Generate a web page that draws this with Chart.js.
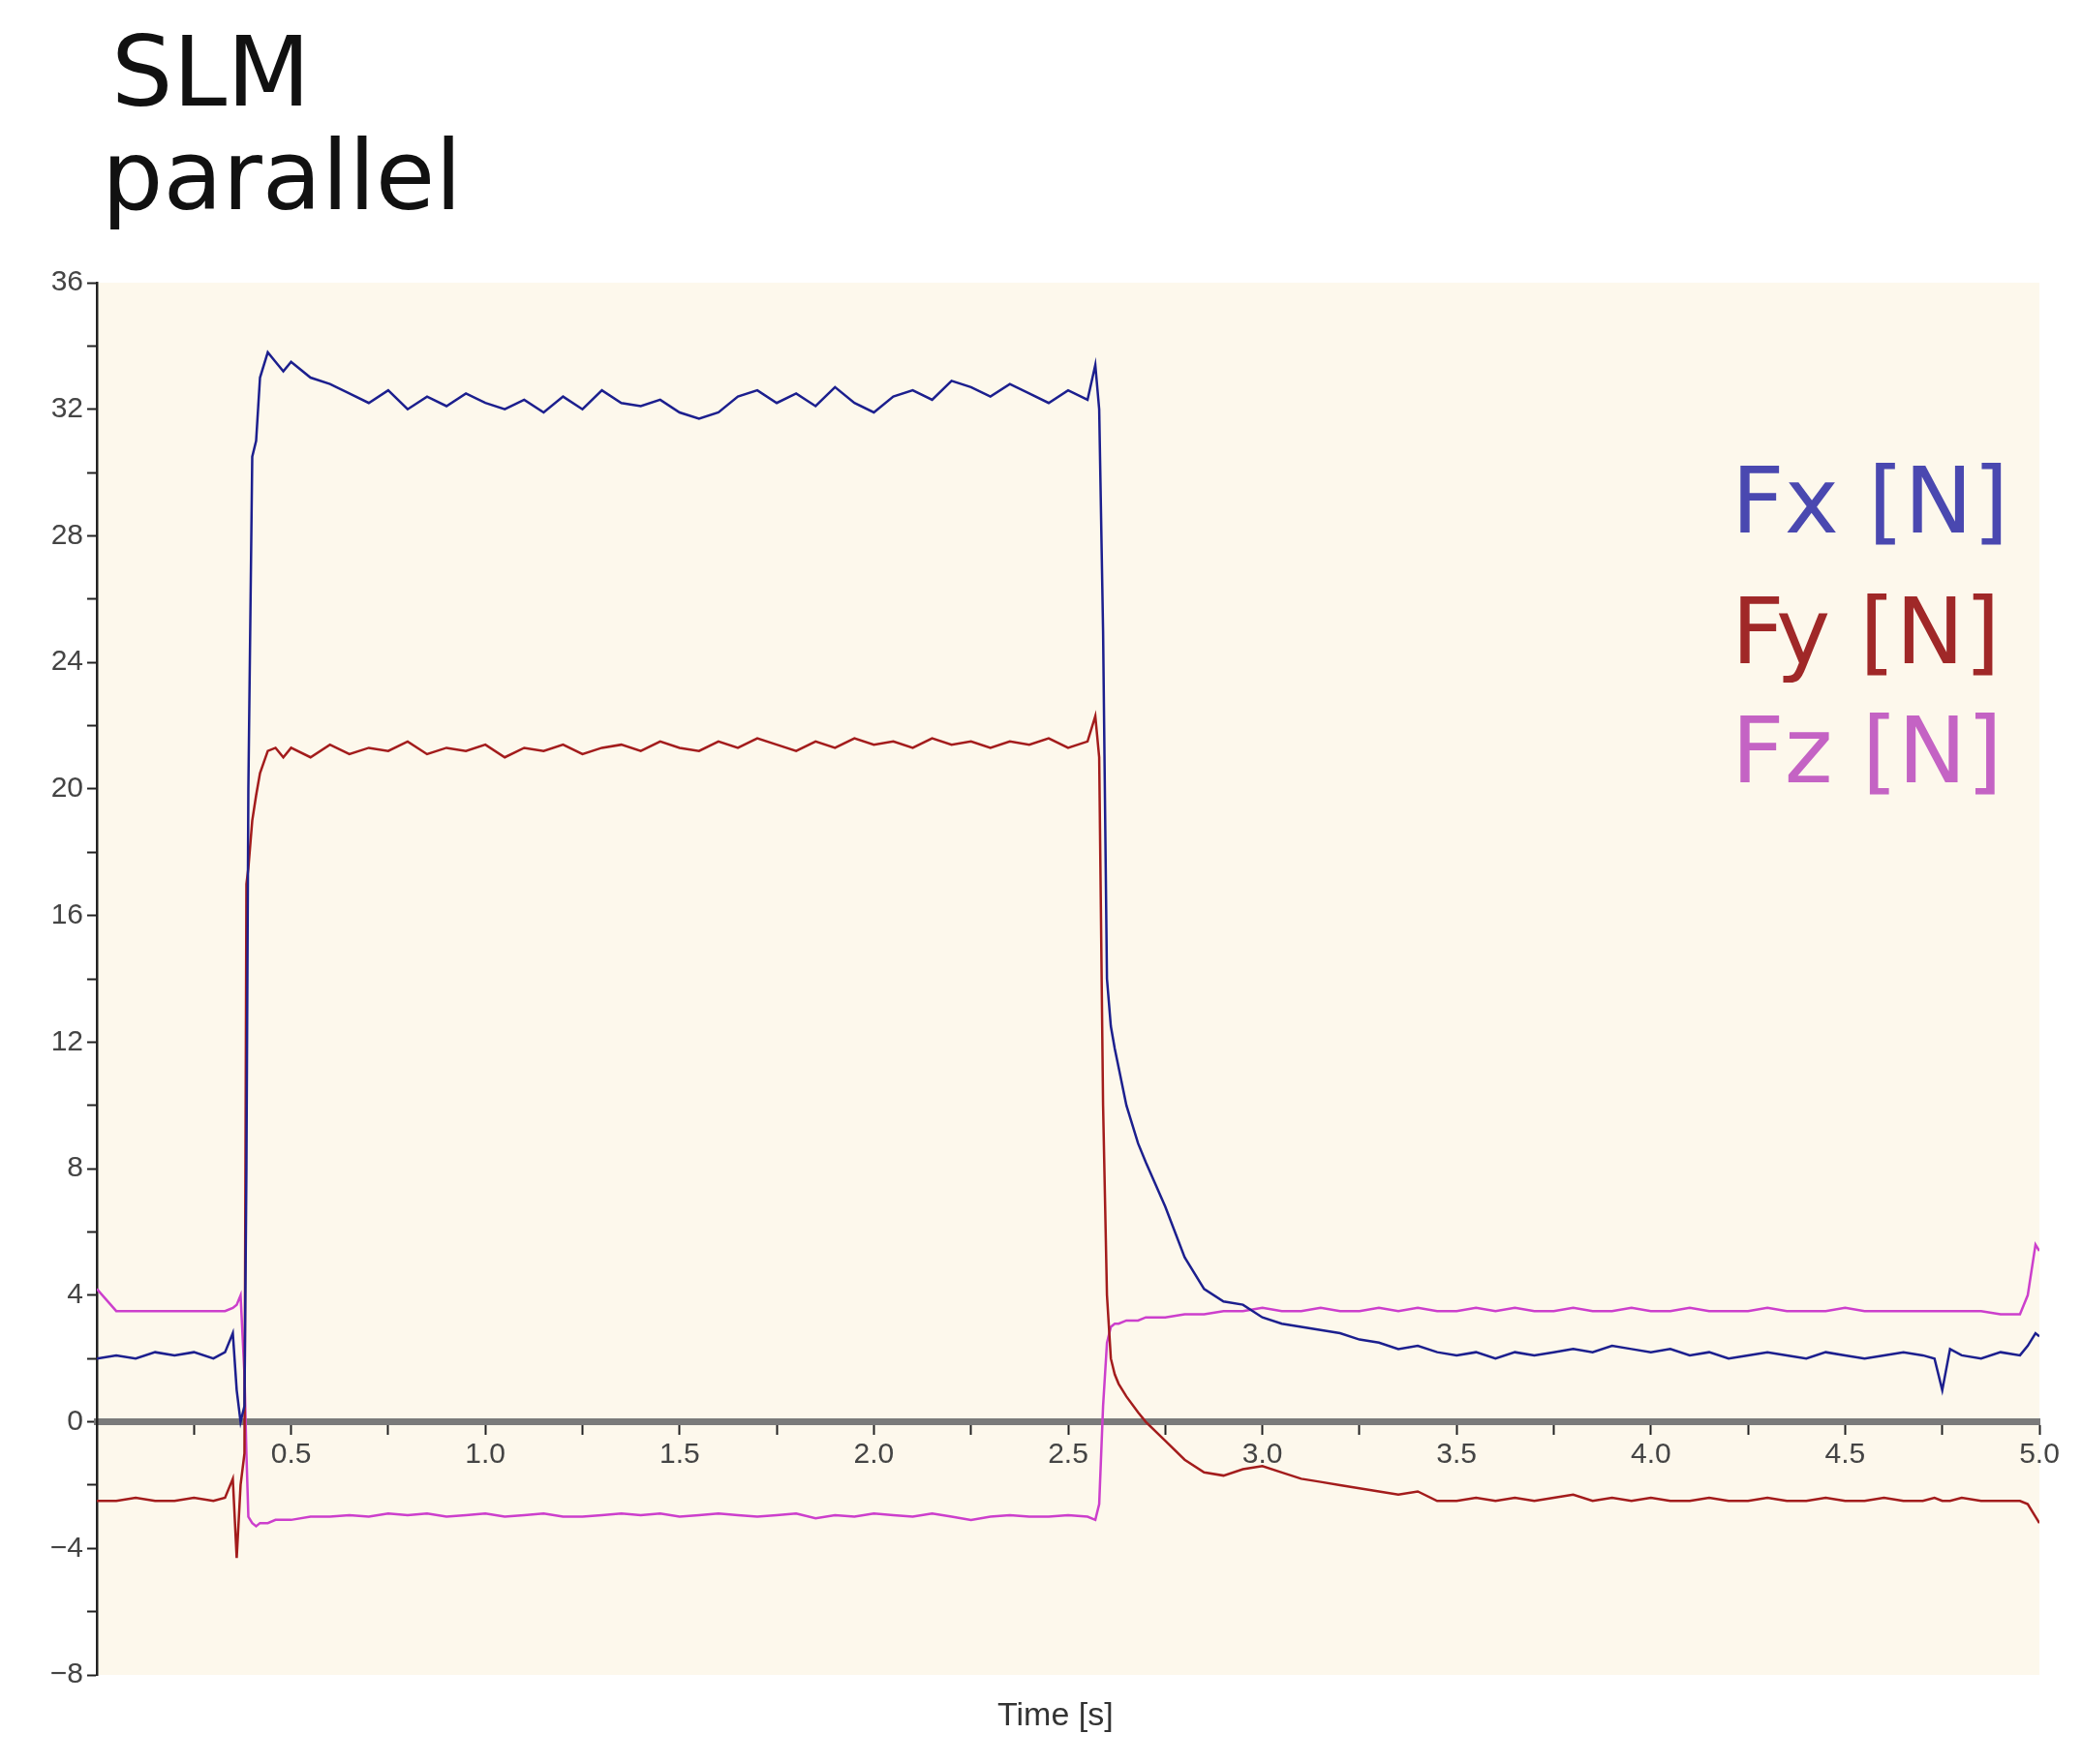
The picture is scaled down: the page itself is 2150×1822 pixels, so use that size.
<!DOCTYPE html>
<html><head><meta charset="utf-8">
<script src="https://cdn.jsdelivr.net/npm/chart.js@4.4.0/dist/chart.umd.min.js"></script>
<style>
html,body{margin:0;padding:0;background:#fff;}
#wrap{position:relative;width:2150px;height:1822px;}
canvas{position:absolute;left:0;top:0;}
.t{position:absolute;font-family:"DejaVu Sans",Verdana,sans-serif;line-height:1;}
</style></head><body>
<div id="wrap">
<canvas id="c" width="2150" height="1822"></canvas>
<div class="t" style="left:115px;top:25px;font-size:100px;color:#111;">SLM</div>
<div class="t" style="left:105px;top:132px;font-size:100px;color:#111;">parallel</div>
<div class="t" style="left:1788px;top:470px;font-size:95px;color:#4a48b0;">Fx [N]</div>
<div class="t" style="left:1788px;top:605px;font-size:95px;color:#a02828;">Fy [N]</div>
<div class="t" style="left:1788px;top:728px;font-size:95px;color:#c463c4;">Fz [N]</div>
<div class="t" style="left:1030px;top:1753px;font-size:34px;color:#333;font-family:'Liberation Sans Narrow','Liberation Sans',sans-serif;">Time [s]</div>
</div>
<script>
const time = [0,0.05,0.1,0.15,0.2,0.25,0.3,0.33,0.35,0.36,0.37,0.38,0.385,0.39,0.40,0.41,0.42,0.44,0.46,0.48,
0.50,0.55,0.60,0.65,0.70,0.75,0.80,0.85,0.90,0.95,1.00,1.05,1.10,1.15,1.20,1.25,1.30,1.35,1.40,1.45,1.50,1.55,1.60,1.65,1.70,1.75,1.80,1.85,1.90,1.95,2.00,2.05,2.10,2.15,2.20,2.25,2.30,2.35,2.40,2.45,2.50,2.55,
2.57,2.58,2.59,2.60,2.61,2.62,2.63,2.65,2.68,2.70,
2.75,2.80,2.85,2.90,2.95,3.00,3.05,3.10,3.15,3.20,3.25,3.30,3.35,3.40,3.45,3.50,3.55,3.60,3.65,3.70,3.75,3.80,3.85,3.90,3.95,4.00,4.05,4.10,4.15,4.20,4.25,4.30,4.35,4.40,4.45,4.50,4.55,4.60,4.65,4.70,
4.73,4.75,4.77,4.80,4.85,4.90,4.95,4.97,4.99,5.00];
const fx = [2.0,2.1,2.0,2.2,2.1,2.2,2.0,2.2,2.8,1.0,0.0,0.5,8,20,30.5,31,33.0,33.8,33.5,33.2,
33.5,33.0,32.8,32.5,32.2,32.6,32.0,32.4,32.1,32.5,32.2,32.0,32.3,31.9,32.4,32.0,32.6,32.2,32.1,32.3,31.9,31.7,31.9,32.4,32.6,32.2,32.5,32.1,32.7,32.2,31.9,32.4,32.6,32.3,32.9,32.7,32.4,32.8,32.5,32.2,32.6,32.3,
33.4,32.0,25,14,12.5,11.8,11.2,10,8.8,8.2,
6.8,5.2,4.2,3.8,3.7,3.3,3.1,3.0,2.9,2.8,2.6,2.5,2.3,2.4,2.2,2.1,2.2,2.0,2.2,2.1,2.2,2.3,2.2,2.4,2.3,2.2,2.3,2.1,2.2,2.0,2.1,2.2,2.1,2.0,2.2,2.1,2.0,2.1,2.2,2.1,
2.0,1.0,2.3,2.1,2.0,2.2,2.1,2.4,2.8,2.7];
const fy = [-2.5,-2.5,-2.4,-2.5,-2.5,-2.4,-2.5,-2.4,-1.8,-4.3,-2.0,-1.0,17,17.5,19,19.8,20.5,21.2,21.3,21.0,
21.3,21.0,21.4,21.1,21.3,21.2,21.5,21.1,21.3,21.2,21.4,21.0,21.3,21.2,21.4,21.1,21.3,21.4,21.2,21.5,21.3,21.2,21.5,21.3,21.6,21.4,21.2,21.5,21.3,21.6,21.4,21.5,21.3,21.6,21.4,21.5,21.3,21.5,21.4,21.6,21.3,21.5,
22.3,21.0,10,4.0,2.0,1.5,1.2,0.8,0.3,0.0,
-0.6,-1.2,-1.6,-1.7,-1.5,-1.4,-1.6,-1.8,-1.9,-2.0,-2.1,-2.2,-2.3,-2.2,-2.5,-2.5,-2.4,-2.5,-2.4,-2.5,-2.4,-2.3,-2.5,-2.4,-2.5,-2.4,-2.5,-2.5,-2.4,-2.5,-2.5,-2.4,-2.5,-2.5,-2.4,-2.5,-2.5,-2.4,-2.5,-2.5,
-2.4,-2.5,-2.5,-2.4,-2.5,-2.5,-2.5,-2.6,-3.0,-3.2];
const fz = [4.2,3.5,3.5,3.5,3.5,3.5,3.5,3.5,3.6,3.7,4.0,1.5,-1.0,-3.0,-3.2,-3.3,-3.2,-3.2,-3.1,-3.1,
-3.1,-3.0,-3.0,-2.95,-3.0,-2.9,-2.95,-2.9,-3.0,-2.95,-2.9,-3.0,-2.95,-2.9,-3.0,-3.0,-2.95,-2.9,-2.95,-2.9,-3.0,-2.95,-2.9,-2.95,-3.0,-2.95,-2.9,-3.05,-2.95,-3.0,-2.9,-2.95,-3.0,-2.9,-3.0,-3.1,-3.0,-2.95,-3.0,-3.0,-2.95,-3.0,
-3.1,-2.6,0.5,2.5,3.0,3.1,3.1,3.2,3.2,3.3,
3.3,3.4,3.4,3.5,3.5,3.6,3.5,3.5,3.6,3.5,3.5,3.6,3.5,3.6,3.5,3.5,3.6,3.5,3.6,3.5,3.5,3.6,3.5,3.5,3.6,3.5,3.5,3.6,3.5,3.5,3.5,3.6,3.5,3.5,3.5,3.6,3.5,3.5,3.5,3.5,
3.5,3.5,3.5,3.5,3.5,3.4,3.4,4.0,5.6,5.4];
const xTicks = [0.5,1.0,1.5,2.0,2.5,3.0,3.5,4.0,4.5,5.0];
const yMajor = [-8,-4,0,4,8,12,16,20,24,28,32,36];

const pts = a => a.map((v,i)=>({x:time[i],y:v}));
const bg = {id:'bg',beforeDraw(c){const a=c.chartArea,g=c.ctx;g.save();g.fillStyle='#fdf8ec';g.fillRect(a.left,a.top,a.right-a.left,a.bottom-a.top);g.restore();}};
const fnt = {family:"'Liberation Sans Narrow','Liberation Sans',sans-serif",size:30};
new Chart(document.getElementById('c'),{
  type:'line',
  data:{datasets:[
    {data:pts(fx),borderColor:'#1c1f8e',borderWidth:2.5,pointRadius:0,tension:0},
    {data:pts(fy),borderColor:'#a31c1c',borderWidth:2.5,pointRadius:0,tension:0},
    {data:pts(fz),borderColor:'#cc3fcc',borderWidth:2.5,pointRadius:0,tension:0}
  ]},
  plugins:[bg],
  options:{
    responsive:false,animation:false,
    layout:{padding:{left:0,right:44,top:292,bottom:92}},
    plugins:{legend:{display:false},tooltip:{enabled:false}},
    scales:{
      x:{type:'linear',min:0,max:5,position:{y:0},
        afterBuildTicks(s){s.ticks=[];for(let i=1;i<=20;i++)s.ticks.push({value:i*0.25});},
        ticks:{autoSkip:false,maxRotation:0,font:fnt,color:'#444',padding:6,
          callback:v=>xTicks.some(t=>Math.abs(t-v)<1e-6)?v.toFixed(1):''},
        grid:{drawOnChartArea:false,tickLength:10,tickColor:'#222',tickWidth:2},
        border:{color:'#7a7a7a',width:7}},
      y:{type:'linear',min:-8,max:36,
        afterFit(s){s.width=100;},
        afterBuildTicks(s){s.ticks=[];for(let v=-8;v<=36;v+=2)s.ticks.push({value:v});},
        ticks:{autoSkip:false,font:fnt,color:'#444',padding:4,
          callback:v=>yMajor.includes(v)?String(v).replace('-','\u2212'):''},
        grid:{drawOnChartArea:false,tickLength:10,tickColor:'#222',tickWidth:2},
        border:{color:'#222',width:2.5}}
    }
  }
});
</script>
</body></html>
